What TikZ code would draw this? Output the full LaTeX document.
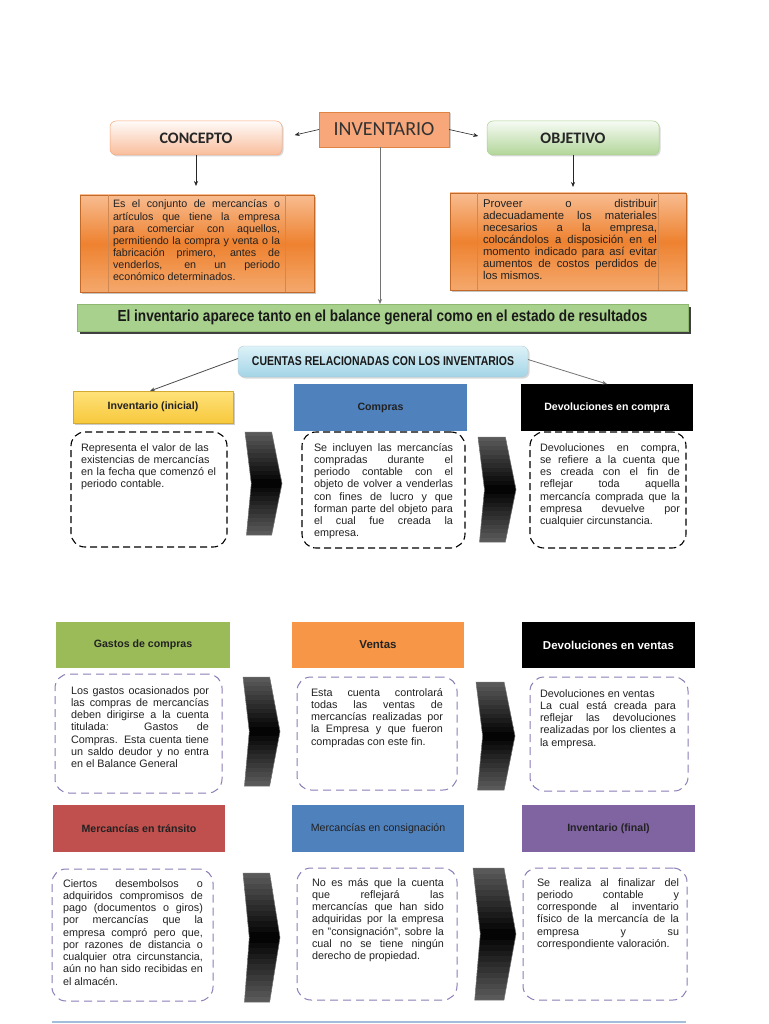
\documentclass[tikz,border=0pt]{standalone}
\usepackage{fontspec}
\setmainfont{Liberation Sans}
\newfontfamily\calib{Carlito}
\newfontfamily\narrowf[FakeStretch=0.82]{Liberation Sans}
\newfontfamily\bannerf[FakeStretch=0.85]{Liberation Sans}
\usetikzlibrary{arrows.meta,shadows}
\hyphenpenalty=10000
\exhyphenpenalty=10000
\definecolor{txt}{HTML}{222222}
\definecolor{invfill}{HTML}{F7A77A}
\definecolor{invdraw}{HTML}{E08444}
\definecolor{orgtop}{HTML}{F8BC90}
\definecolor{orgmid}{HTML}{EE8230}
\definecolor{orgbot}{HTML}{F4A86C}
\definecolor{orgdraw}{HTML}{C46A28}
\definecolor{bannerg}{HTML}{A9D18E}
\definecolor{bannerd}{HTML}{8CB870}
\definecolor{bluetop}{HTML}{DDF2F8}
\definecolor{bluebot}{HTML}{A3D4E6}
\definecolor{yeltop}{HTML}{FFE27A}
\definecolor{yelbot}{HTML}{F7C83C}
\definecolor{azul}{HTML}{4F81BD}
\definecolor{verde}{HTML}{9BBB59}
\definecolor{naranja}{HTML}{F79646}
\definecolor{rojo}{HTML}{C0504D}
\definecolor{morado}{HTML}{8064A2}
\definecolor{lila}{HTML}{8C7DB6}
\definecolor{lineab}{HTML}{A3BEDB}
\definecolor{chevg}{HTML}{595959}
\newcommand\chevshape[4]{%
  \begin{scope}
  \clip (#1,#2) -- ({#1+0.72*(#3-#1)},#2) -- (#3,{(#2+#4)/2})
    -- ({#1+0.72*(#3-#1)},#4) -- ({#1+0.04*(#3-#1)},#4) -- ({#1+0.17*(#3-#1)},{(#2+#4)/2}) -- cycle;
  \foreach \i in {0,...,23}{%
    \pgfmathsetmacro\mixv{100*abs(\i-11.5)/11.5}%
    \fill[chevg!\mixv!black] (#1-1,{#2+\i*(#4-#2)/24}) rectangle (#3+1,{#2+(\i+1)*(#4-#2)/24+0.6});
  }
  \end{scope}
  \draw[draw=black!55, line width=0.5pt] (#1,#2) -- ({#1+0.72*(#3-#1)},#2) -- (#3,{(#2+#4)/2})
    -- ({#1+0.72*(#3-#1)},#4) -- ({#1+0.04*(#3-#1)},#4) -- ({#1+0.17*(#3-#1)},{(#2+#4)/2}) -- cycle;}
\begin{document}
\begin{tikzpicture}[x=1pt,y=-1pt,
  box/.style={inner sep=0pt, outer sep=0pt, anchor=north west},
  hdr/.style={box, text=txt, font=\bfseries\fontsize{10.6}{12}\selectfont},
  dboxk/.style={box, draw=black, line width=1.1pt, dash pattern=on 7pt off 4pt, rounded corners=14pt},
  dboxl/.style={box, draw=lila, line width=1pt, dash pattern=on 8pt off 5pt, rounded corners=14pt},
  body/.style={inner sep=0pt, outer sep=0pt, anchor=base west, text=txt, align=justify,
    font=\fontsize{10.8}{12.25}\selectfont},
  arr/.style={draw=black!85, line width=0.6pt, -{Stealth[length=5pt,width=4pt]}},
  panel/.style={draw=orgdraw!80, line width=0.6pt}
]
\useasboundingbox[fill=white] (0,0) rectangle (768,1024);

% ---- top row
\node[box, fill=invfill, draw=invdraw, line width=0.6pt, minimum width=130pt, minimum height=35pt,
  drop shadow={shadow xshift=1.5pt,shadow yshift=-1.5pt,opacity=0.35},
  font=\calib\fontsize{20}{22}\selectfont, text=black!80] (inv) at (319,112) {INVENTARIO};
\node[box, rounded corners=6pt, top color=white!95!invfill, bottom color=invfill!75, draw=invfill, line width=0.5pt,
  minimum width=172pt, minimum height=34pt,
  drop shadow={shadow xshift=1.5pt,shadow yshift=-1.5pt,opacity=0.3},
  font=\calib\bfseries\fontsize{16}{18}\selectfont, text=black!85] (concepto) at (110,121) {CONCEPTO};
\node[box, rounded corners=6pt, top color=white!90!bannerg, bottom color=bannerg!90, draw=bannerg, line width=0.5pt,
  minimum width=172pt, minimum height=34pt,
  drop shadow={shadow xshift=1.5pt,shadow yshift=-1.5pt,opacity=0.3},
  font=\calib\bfseries\fontsize{16}{18}\selectfont, text=black!85] (objetivo) at (487,121) {OBJETIVO};

\draw[arr, shorten >=13pt] (inv.west) -- (concepto.east);
\draw[arr, shorten >=9pt] (inv.east) -- (objetivo.west);

% ---- concept / objective boxes
\node[box, top color=orgtop, bottom color=orgbot, middle color=orgmid, draw=orgdraw, line width=0.6pt,
  minimum width=234pt, minimum height=97pt,
  drop shadow={shadow xshift=2pt,shadow yshift=-2pt,opacity=0.45}] (cbox) at (80,195) {};
\draw[panel] ([xshift=28pt]cbox.north west) -- ([xshift=28pt]cbox.south west);
\draw[panel] ([xshift=-29pt]cbox.north east) -- ([xshift=-29pt]cbox.south east);
\node[body, text width=167pt, font=\fontsize{10.7}{12.1}\selectfont] (ctext) at (113,208) {Es el conjunto de mercancías o\linebreak
artículos que tiene la empresa\linebreak
para comerciar con aquellos,\linebreak
permitiendo la compra y venta o la\linebreak
fabricación primero, antes de\linebreak
venderlos, en un periodo\linebreak
económico determinados.};

\node[box, top color=orgtop, bottom color=orgbot, middle color=orgmid, draw=orgdraw, line width=0.6pt,
  minimum width=236pt, minimum height=97pt,
  drop shadow={shadow xshift=2pt,shadow yshift=-2pt,opacity=0.45}] (obox) at (450,193) {};
\draw[panel] ([xshift=27pt]obox.north west) -- ([xshift=27pt]obox.south west);
\draw[panel] ([xshift=-28pt]obox.north east) -- ([xshift=-28pt]obox.south east);
\node[body, text width=174pt, font=\fontsize{11.3}{11.95}\selectfont] (otext) at (483,208) {Proveer o distribuir\linebreak
adecuadamente los materiales\linebreak
necesarios a la empresa,\linebreak
colocándolos a disposición en el\linebreak
momento indicado para así evitar\linebreak
aumentos de costos perdidos de\linebreak
los mismos.};

\draw[arr, shorten >=9pt] (concepto.south) -- (concepto.south |- cbox.north);
\draw[arr, shorten >=6pt] (objetivo.south) -- (objetivo.south |- obox.north);

% ---- banner
\node[box, fill=bannerg, draw=bannerd, line width=0.5pt, minimum width=611pt, minimum height=27pt,
  drop shadow={shadow xshift=2.5pt,shadow yshift=-2.5pt,fill=black!75,opacity=1},
  font=\bannerf\bfseries\fontsize{16}{18}\selectfont, text=black!90] (banner) at (77,304)
  {El inventario aparece tanto en el balance general como en el estado de resultados};
\coordinate (invbot) at (380,147);
\draw[draw=black!55, line width=0.8pt, -{Stealth[length=5pt,width=4pt]}] (invbot) -- (invbot |- banner.north);

% ---- cuentas
\node[box, rounded corners=6pt, top color=bluetop, bottom color=bluebot, draw=bluebot!80!black!60, line width=0.4pt,
  minimum width=290pt, minimum height=31pt,
  drop shadow={shadow xshift=1.5pt,shadow yshift=-1.5pt,opacity=0.3},
  font=\narrowf\bfseries\fontsize{12.8}{14}\selectfont, text=black!90] (cuentas) at (238,346)
  {CUENTAS RELACIONADAS CON LOS INVENTARIOS};

% ---- row 1 headers
\node[hdr, top color=yeltop, bottom color=yelbot, draw=yelbot!85!black, line width=0.4pt,
  minimum width=160pt, minimum height=32pt,
  drop shadow={shadow xshift=2pt,shadow yshift=-2pt,opacity=0.4}] (inicial) at (73,391) {Inventario (inicial)};
\node[hdr, fill=azul, minimum width=173pt, minimum height=47pt] (compras) at (294,384) {Compras};
\node[hdr, fill=black, text=white, minimum width=172pt, minimum height=47pt] (devcompra) at (521,384) {Devoluciones en compra};

\draw[draw=black!70, line width=0.8pt, -{Stealth[length=5pt,width=4pt]}] ([yshift=3pt]cuentas.west) -- ([xshift=-3pt]inicial.north);
\draw[draw=black!55, line width=0.8pt, -{Stealth[length=5pt,width=4pt]}] ([yshift=2pt]cuentas.east) -- (devcompra.north);

% ---- row 1 bodies
\node[dboxk, minimum width=156pt, minimum height=115pt] (b11) at (71,432) {};
\node[dboxk, minimum width=163pt, minimum height=116pt] (b12) at (302,432) {};
\node[dboxk, minimum width=156pt, minimum height=116pt] (b13) at (530,432) {};
\node[body, text width=140pt, align=left] (t11) at (81,451) {Representa el valor de las\\
existencias de mercancías\\
en la fecha que comenzó el\\
periodo contable.};
\node[body, text width=139pt] (t12) at (314,451) {Se incluyen las mercancías\linebreak
compradas durante el\linebreak
periodo contable con el\linebreak
objeto de volver a venderlas\linebreak
con fines de lucro y que\linebreak
forman parte del objeto para\linebreak
el cual fue creada la\linebreak
empresa.};
\node[body, text width=140pt] (t13) at (540,451) {Devoluciones en compra,\linebreak
se refiere a la cuenta que\linebreak
es creada con el fin de\linebreak
reflejar toda aquella\linebreak
mercancía comprada que la\linebreak
empresa devuelve por\linebreak
cualquier circunstancia.};
\chevshape{245}{432}{282}{535}
\chevshape{478}{437}{516}{542}

% ---- row 2
\node[hdr, fill=verde, minimum width=174pt, minimum height=46pt] (gastos) at (56,622) {Gastos de compras};
\node[hdr, fill=naranja, minimum width=172pt, minimum height=46pt, font=\bfseries\fontsize{11.5}{13}\selectfont] (ventas) at (292,622) {Ventas};
\node[hdr, fill=black, text=white, minimum width=173pt, minimum height=46pt, font=\bfseries\fontsize{11.5}{13}\selectfont] (devventas) at (522,622) {Devoluciones en ventas};
\node[dboxl, minimum width=167pt, minimum height=119pt] (b21) at (55,674) {};
\node[dboxl, minimum width=160pt, minimum height=113pt] (b22) at (297,677) {};
\node[dboxl, minimum width=158pt, minimum height=114pt] (b23) at (530,677) {};
\node[body, text width=138pt] (t21) at (71,694) {Los gastos ocasionados por\linebreak
las compras de mercancías\linebreak
deben dirigirse a la cuenta\linebreak
titulada: Gastos de\linebreak
Compras. Esta cuenta tiene\linebreak
un saldo deudor y no entra\linebreak
en el Balance General};
\node[body, text width=132pt] (t22) at (311,696) {Esta cuenta controlará\linebreak
todas las ventas de\linebreak
mercancías realizadas por\linebreak
la Empresa y que fueron\linebreak
compradas con este fin.};
\node[body, text width=136pt] (t23) at (540,697) {Devoluciones en ventas\newline
La cual está creada para\linebreak
reflejar las devoluciones\linebreak
realizadas por los clientes a\linebreak
la empresa.};
\chevshape{243}{677}{280}{786}
\chevshape{476}{682}{515}{790}

% ---- row 3
\node[hdr, fill=rojo, minimum width=172pt, minimum height=47pt] (transito) at (53,805) {Mercancías en tránsito};
\node[hdr, fill=azul, minimum width=172pt, minimum height=47pt, font=\fontsize{10.6}{12}\selectfont] (consign) at (292,805) {Mercancías en consignación};
\node[hdr, fill=morado, minimum width=173pt, minimum height=47pt] (invfinal) at (522,805) {Inventario (final)};
\node[dboxl, minimum width=161pt, minimum height=132pt] (b31) at (52,869) {};
\node[dboxl, minimum width=160pt, minimum height=132pt] (b32) at (297,868) {};
\node[dboxl, minimum width=164pt, minimum height=132pt] (b33) at (523,868) {};
\node[body, text width=140pt] (t31) at (63,887) {Ciertos desembolsos o\linebreak
adquiridos compromisos de\linebreak
pago (documentos o giros)\linebreak
por mercancías que la\linebreak
empresa compró pero que,\linebreak
por razones de distancia o\linebreak
cualquier otra circunstancia,\linebreak
aún no han sido recibidas en\linebreak
el almacén.};
\node[body, text width=132pt] (t32) at (312,886) {No es más que la cuenta\linebreak
que reflejará las\linebreak
mercancías que han sido\linebreak
adquiridas por la empresa\linebreak
en "consignación", sobre la\linebreak
cual no se tiene ningún\linebreak
derecho de propiedad.};
\node[body, text width=142pt] (t33) at (537,886) {Se realiza al finalizar del\linebreak
periodo contable y\linebreak
corresponde al inventario\linebreak
físico de la mercancía de la\linebreak
empresa y su\linebreak
correspondiente valoración.};
\chevshape{243}{873}{280}{1002}
\chevshape{473}{868}{516}{1000}

\draw[draw=lineab, line width=1.2pt] (52,1022) -- (686,1022);
\end{tikzpicture}
\end{document}
